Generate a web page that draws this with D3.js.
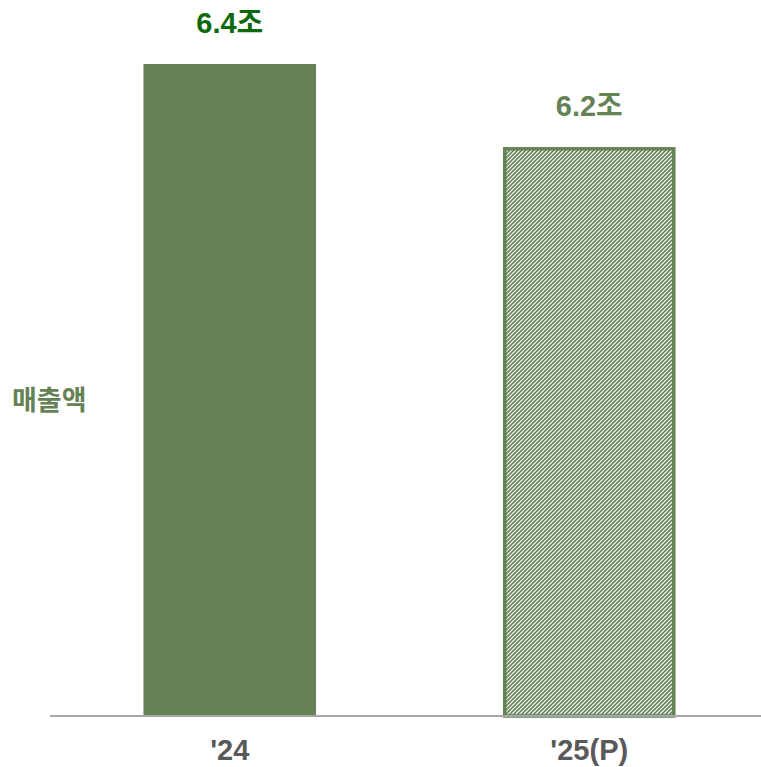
<!DOCTYPE html>
<html><head><meta charset="utf-8">
<script src="https://cdn.jsdelivr.net/npm/d3@7"></script>
<style>body{margin:0;background:#fff}</style>
</head><body>
<script>
const categories = ["'24", "'25(P)"];
const values = [6.4, 6.2];
const valueLabels = ["6.4조", "6.2조"];
const seriesName = "매출액";

const W = 761, H = 767;
const green = "#648255";
const svg = d3.select("body").append("svg").attr("width", W).attr("height", H);

const defs = svg.append("defs");
const pat = defs.append("pattern").attr("id", "hatch").attr("patternUnits", "userSpaceOnUse")
  .attr("width", 4).attr("height", 4);
pat.append("rect").attr("width", 4).attr("height", 4).attr("fill", "#fff");
pat.append("path").attr("d", "M-1,1 L1,-1 M0,4 L4,0 M3,5 L5,3")
  .attr("stroke", green).attr("stroke-width", 1.6);

const x = d3.scaleBand().domain(categories).range([50, 769]).paddingInner(0.52).paddingOuter(0.26);
const y = d3.scaleLinear().domain([4.83, 6.4]).range([716, 64]);

// bar 1 solid
svg.append("rect")
  .attr("x", x(categories[0])).attr("y", y(values[0]))
  .attr("width", x.bandwidth()).attr("height", 716 - y(values[0]))
  .attr("fill", green);
// bar 2 hatched
const sw = 3.5;
svg.append("rect")
  .attr("x", x(categories[1]) + sw/2).attr("y", y(values[1]) + sw/2)
  .attr("width", x.bandwidth() - sw).attr("height", 716 - y(values[1]) - sw/2)
  .attr("fill", "url(#hatch)").attr("stroke", green).attr("stroke-width", sw);

// baseline
svg.append("line").attr("x1", 50).attr("x2", 761).attr("y1", 716).attr("y2", 716)
  .attr("stroke", "#a6a6a6").attr("stroke-width", 2);

// value labels
const labelColors = ["#0b6a0b", green];
categories.forEach((c, i) => {
  svg.append("text").attr("x", x(c) + x.bandwidth()/2).attr("y", y(values[i]) - 31)
    .attr("text-anchor", "middle").attr("font-family", "Liberation Sans, Arial, 'Noto Sans CJK KR', sans-serif")
    .attr("font-weight", "bold").attr("font-size", 29).attr("fill", labelColors[i]).text(valueLabels[i]);
  svg.append("text").attr("x", x(c) + x.bandwidth()/2).attr("y", 760)
    .attr("text-anchor", "middle").attr("font-family", "Liberation Sans, Arial, sans-serif")
    .attr("font-weight", "bold").attr("font-size", 29).attr("fill", "#595959").text(c);
});

svg.append("text").attr("x", 12).attr("y", 410)
  .attr("font-family", "'Noto Sans CJK KR', sans-serif").attr("font-weight", "bold")
  .attr("font-size", 27).attr("fill", green).text(seriesName);
</script>
</body></html>
